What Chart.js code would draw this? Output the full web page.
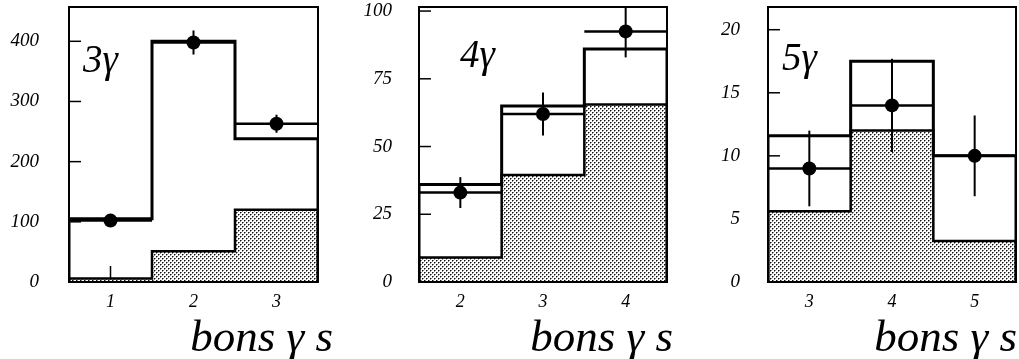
<!DOCTYPE html>
<html>
<head>
<meta charset="utf-8">
<script src="https://cdn.jsdelivr.net/npm/chart.js@4.4.1/dist/chart.umd.min.js"></script>
<style>
  body { margin: 0; background: #fff; }
  #page { position: relative; width: 1019px; height: 359px; overflow: hidden; }
  .painel { position: absolute; top: 0; height: 359px; }
</style>
</head>
<body>
<div id="page">
  <div class="painel" style="left:0;width:340px"><canvas id="g3"></canvas></div>
  <div class="painel" style="left:340px;width:340px"><canvas id="g4"></canvas></div>
  <div class="painel" style="left:680px;width:339px"><canvas id="g5"></canvas></div>
</div>
<script>
// 3 photons
const bins3 = [1, 2, 3];
const fond3 = [6, 51, 120];
const simul3 = [105, 400, 238];
const mesure3 = [102, 398, 263];
const erreur3 = [10, 20, 15];
const yTicks3 = [0, 100, 200, 300, 400];

// 4 photons
const bins4 = [2, 3, 4];
const fond4 = [9, 39.5, 65.5];
const simul4 = [36, 65, 86];
const mesure4 = [33, 62, 92.5];
const erreur4 = [5.7, 7.9, 9.6];
const yTicks4 = [0, 25, 50, 75, 100];

// 5 photons
const bins5 = [3, 4, 5];
const fond5 = [5.6, 12, 3.25];
const simul5 = [11.6, 17.5, 10];
const mesure5 = [9, 14, 10];
const erreur5 = [3, 3.7, 3.2];
const yTicks5 = [0, 5, 10, 15, 20];

const SERIF = '"Liberation Serif", "DejaVu Serif", serif';

// trame pointillée pour le fond
function trame() {
    let c = document.createElement("canvas");
    c.width = 4; c.height = 4;
    let g = c.getContext("2d");
    g.fillStyle = "#fff";
    g.fillRect(0, 0, 4, 4);
    g.fillStyle = "#111";
    g.fillRect(0, 0, 1, 1);
    g.fillRect(2, 2, 1, 1);
    g.fillStyle = "#888";
    g.fillRect(1, 0, 1, 1);
    g.fillRect(3, 2, 1, 1);
    g.fillRect(0, 1, 1, 1);
    g.fillRect(2, 3, 1, 1);
    return g.createPattern(c, "repeat");
}

// histogramme en marches à partir des bins
function marches(bins, vals) {
    let pts = [{x: bins[0] - 0.5, y: 0}];
    bins.forEach(function(b, i) {
        pts.push({x: b - 0.5, y: vals[i]});
        pts.push({x: b + 0.5, y: vals[i]});
    });
    pts.push({x: bins[bins.length - 1] + 0.5, y: 0});
    return pts;
}

function trait(ctx, x1, y1, x2, y2) {
    ctx.beginPath();
    ctx.moveTo(x1, y1);
    ctx.lineTo(x2, y2);
    ctx.stroke();
}

const cadre = {
    id: "cadre",
    beforeDatasetsDraw(chart, args, opts) {
        const {ctx, chartArea: a, scales: {x, y}} = chart;
        ctx.save();
        ctx.strokeStyle = "#000";
        ctx.lineWidth = 1.5;
        y.ticks.forEach(function(t) {
            let py = y.getPixelForValue(t.value);
            trait(ctx, a.left, py, a.left + 12, py);
        });
        x.ticks.forEach(function(t) {
            let px = x.getPixelForValue(t.value);
            trait(ctx, px, a.bottom, px, a.bottom - 16);
        });
        ctx.restore();
    },
    afterDatasetsDraw(chart, args, opts) {
        // barres d'erreur et largeur des bins
        const {ctx, chartArea: a, scales: {x, y}} = chart;
        ctx.save();
        ctx.beginPath();
        ctx.rect(a.left, a.top, a.right - a.left, a.bottom - a.top);
        ctx.clip();
        ctx.strokeStyle = "#000";
        opts.bins.forEach(function(b, i) {
            let v = opts.mesure[i], e = opts.erreur[i];
            let py = y.getPixelForValue(v);
            let px = x.getPixelForValue(b);
            ctx.lineWidth = 2.5;
            trait(ctx, x.getPixelForValue(b - 0.5), py, x.getPixelForValue(b + 0.5), py);
            ctx.lineWidth = 2;
            trait(ctx, px, y.getPixelForValue(v - e), px, y.getPixelForValue(v + e));
        });
        ctx.restore();
    },
    afterDraw(chart, args, opts) {
        const {ctx, chartArea: a} = chart;
        ctx.save();
        ctx.strokeStyle = "#000";
        ctx.lineWidth = 2;
        ctx.strokeRect(a.left, a.top, a.right - a.left, a.bottom - a.top);
        ctx.fillStyle = "#000";
        ctx.textBaseline = "alphabetic";
        ctx.font = "italic 39px " + SERIF;
        ctx.textAlign = "left";
        ctx.fillText(opts.etiquette, a.left + opts.etiqX, opts.etiqY);
        ctx.font = "italic 45px " + SERIF;
        ctx.textAlign = "right";
        ctx.fillText("bons \u03b3 s", opts.titreX, 351);
        ctx.restore();
    }
};

function grafico(id, p) {
    let motif = trame();
    return new Chart(document.getElementById(id), {
        type: "line",
        data: {
            datasets: [{
                data: p.bins.map(function(b, i) { return {x: b, y: p.mesure[i]}; }),
                showLine: false,
                pointRadius: 7,
                pointHoverRadius: 7,
                pointBackgroundColor: "#000",
                pointBorderWidth: 0,
                order: 1
            }, {
                data: marches(p.bins, p.simul),
                borderColor: "#000",
                borderWidth: 3,
                pointRadius: 0,
                fill: false,
                tension: 0,
                order: 2
            }, {
                data: marches(p.bins, p.fond),
                borderColor: "#000",
                borderWidth: 2.5,
                backgroundColor: motif,
                pointRadius: 0,
                fill: "origin",
                tension: 0,
                order: 3
            }]
        },
        options: {
            responsive: true,
            maintainAspectRatio: false,
            animation: false,
            events: [],
            layout: {autoPadding: false, padding: {top: 7, right: p.droite, left: 0, bottom: 0}},
            plugins: {
                legend: {display: false},
                tooltip: {enabled: false},
                cadre: {
                    bins: p.bins, mesure: p.mesure, erreur: p.erreur,
                    etiquette: p.etiquette, etiqX: p.etiqX, etiqY: p.etiqY, titreX: p.titreX
                }
            },
            scales: {
                x: {
                    type: "linear",
                    min: p.bins[0] - 0.5,
                    max: p.bins[2] + 0.5,
                    grid: {display: false, drawTicks: false},
                    border: {display: false},
                    afterBuildTicks: function(s) { s.ticks = p.bins.map(function(v) { return {value: v}; }); },
                    afterFit: function(s) { s.height = 77; s.paddingLeft = 0; s.paddingRight = 0; },
                    ticks: {color: "#000", padding: 9, maxRotation: 0, font: {family: SERIF, size: 18, style: "italic"}}
                },
                y: {
                    type: "linear",
                    min: 0,
                    max: p.ymax,
                    grid: {display: false, drawTicks: false},
                    border: {display: false},
                    afterBuildTicks: function(s) { s.ticks = p.yTicks.map(function(v) { return {value: v}; }); },
                    afterFit: function(s) { s.width = p.gauche; s.paddingTop = 0; s.paddingBottom = 0; },
                    ticks: {color: "#000", padding: p.pad, font: {family: SERIF, size: 19, style: "italic"}}
                }
            }
        },
        plugins: [cadre]
    });
}

grafico("g3", {bins: bins3, fond: fond3, simul: simul3, mesure: mesure3, erreur: erreur3,
    yTicks: yTicks3, ymax: 457, gauche: 69, droite: 22, pad: 30,
    etiquette: "3\u03b3", etiqX: 14, etiqY: 72, titreX: 333});
grafico("g4", {bins: bins4, fond: fond4, simul: simul4, mesure: mesure4, erreur: erreur4,
    yTicks: yTicks4, ymax: 101.5, gauche: 79, droite: 13, pad: 27,
    etiquette: "4\u03b3", etiqX: 41, etiqY: 67, titreX: 333});
grafico("g5", {bins: bins5, fond: fond5, simul: simul5, mesure: mesure5, erreur: erreur5,
    yTicks: yTicks5, ymax: 21.8, gauche: 88, droite: 3, pad: 28,
    etiquette: "5\u03b3", etiqX: 14, etiqY: 70, titreX: 337});
</script>
</body>
</html>
